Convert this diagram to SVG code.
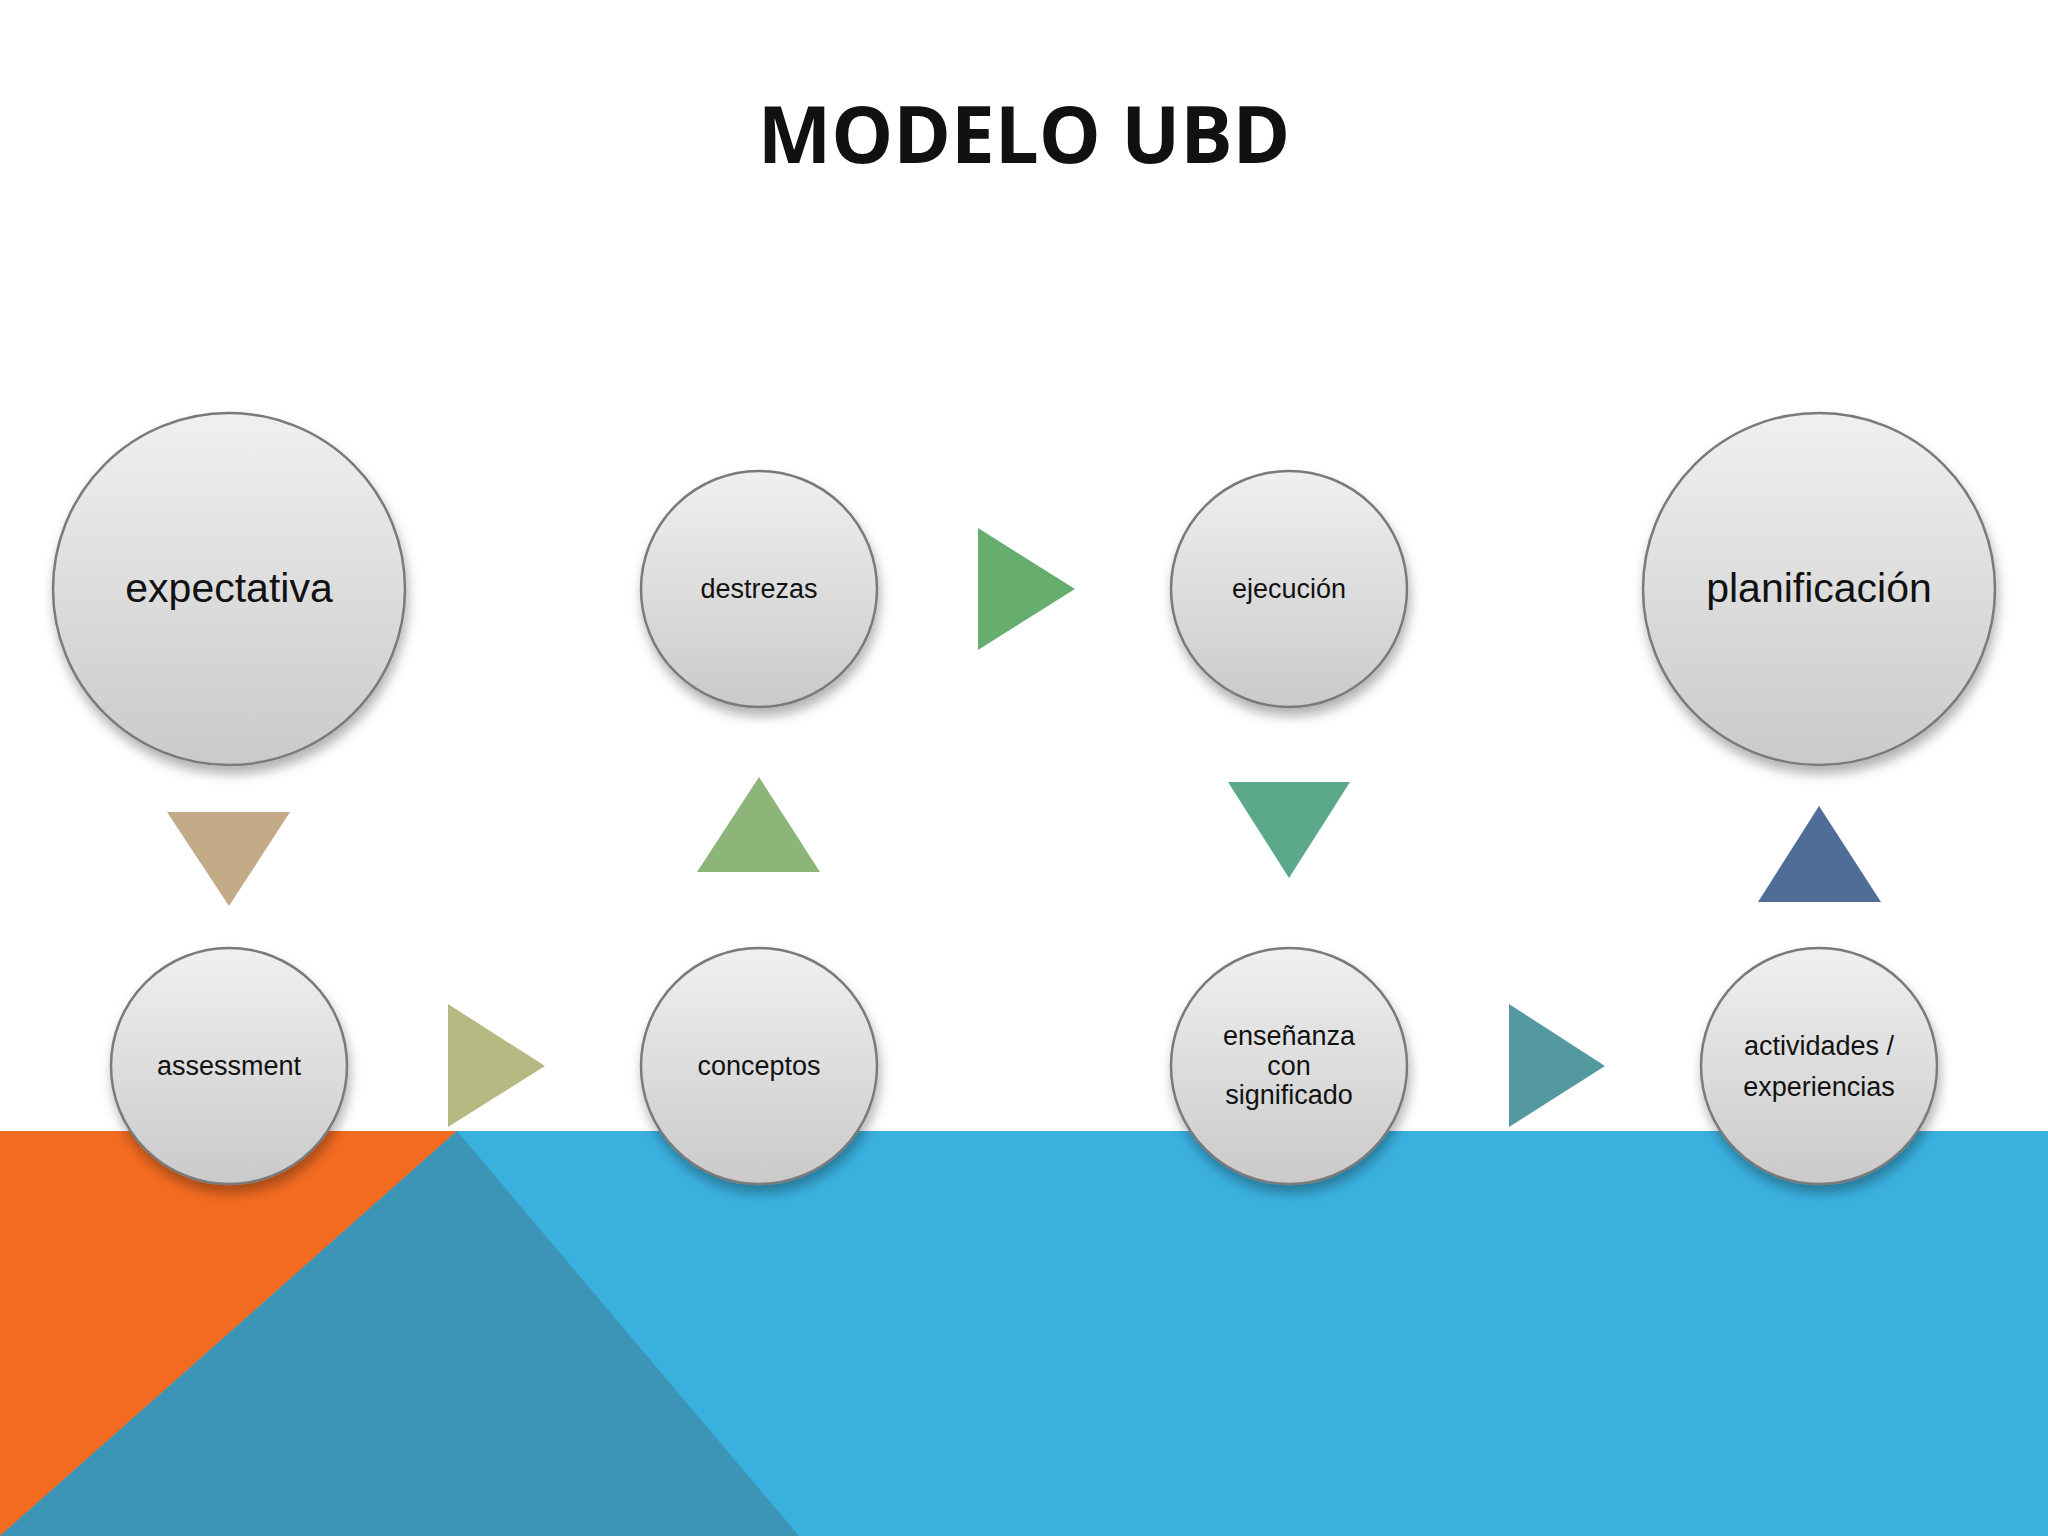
<svg xmlns="http://www.w3.org/2000/svg" width="2048" height="1536" viewBox="0 0 2048 1536">
<style>
.c{fill:url(#g);stroke:#7a7a7a;stroke-width:2.5;filter:url(#sh)}
.t{font-family:"Liberation Sans",Arial,sans-serif;fill:#111;text-anchor:middle}
.big{font-size:41px}
.sm{font-size:27px}
</style>
<defs>
<linearGradient id="g" x1="0" y1="0" x2="0" y2="1">
<stop offset="0" stop-color="#f0f0f0"/><stop offset="1" stop-color="#cacacb"/>
</linearGradient>
<filter id="sh" x="-20%" y="-20%" width="140%" height="150%">
<feDropShadow dx="2" dy="8" stdDeviation="6" flood-color="#000" flood-opacity="0.3"/>
</filter>
</defs>
<rect width="2048" height="1536" fill="#fff"/>
<rect x="0" y="1131" width="2048" height="405" fill="#3AB0DF"/>
<polygon points="0,1131 457,1131 0,1536" fill="#F26B21"/>
<polygon points="457,1131 799,1536 0,1536" fill="#3C95B7"/>
<text x="1024" y="163" class="t" style="font-size:78px;font-weight:bold;font-family:'Open Sans','Liberation Sans',sans-serif">MODELO UBD</text>
<g id="connectors">
<polygon points="167,812 290,812 229,906" fill="#C4AB88"/>
<polygon points="448,1004 545,1066 448,1127" fill="#B6BA82"/>
<polygon points="697,872 820,872 759,777" fill="#8DB579"/>
<polygon points="978,528 1075,589 978,650" fill="#66AD6E"/>
<polygon points="1228,782 1350,782 1289,878" fill="#5BA98A"/>
<polygon points="1509,1004 1605,1066 1509,1127" fill="#5499A0"/>
<polygon points="1758,902 1881,902 1819,806" fill="#4F6D96"/>
</g>
<g id="expectativa"><circle class="c" cx="229" cy="589" r="176"/><text class="t big" x="229" y="602">expectativa</text></g>
<g id="destrezas"><circle class="c" cx="759" cy="589" r="118"/><text class="t sm" x="759" y="598">destrezas</text></g>
<g id="ejecucion"><circle class="c" cx="1289" cy="589" r="118"/><text class="t sm" x="1289" y="598">ejecución</text></g>
<g id="planificacion"><circle class="c" cx="1819" cy="589" r="176"/><text class="t big" x="1819" y="602">planificación</text></g>
<g id="assessment"><circle class="c" cx="229" cy="1066" r="118"/><text class="t sm" x="229" y="1075">assessment</text></g>
<g id="conceptos"><circle class="c" cx="759" cy="1066" r="118"/><text class="t sm" x="759" y="1075">conceptos</text></g>
<g id="ensenanza"><circle class="c" cx="1289" cy="1066" r="118"/><text class="t sm" x="1289" y="1045">enseñanza</text><text class="t sm" x="1289" y="1075">con</text><text class="t sm" x="1289" y="1104">significado</text></g>
<g id="actividades"><circle class="c" cx="1819" cy="1066" r="118"/><text class="t sm" x="1819" y="1055">actividades /</text><text class="t sm" x="1819" y="1096">experiencias</text></g>
</svg>
